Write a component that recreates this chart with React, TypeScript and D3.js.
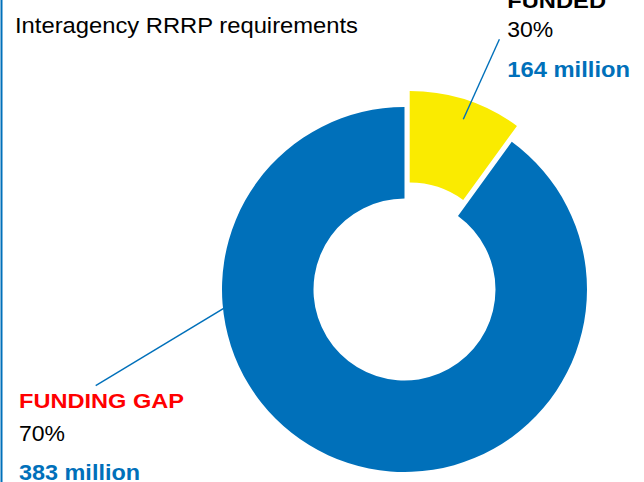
import React from "react";
import * as d3 from "d3";

const categories = ["FUNDED", "FUNDING GAP"];
const shares = [10, 90]; // slice sizes as drawn
const percentLabels = ["30%", "70%"];
const amountLabels = ["164 million", "383 million"];
const title = "Interagency RRRP requirements";

const W = 644;
const H = 482;
const BLUE = "#0070BA";
const YELLOW = "#FAEB00";
const RED = "#FF0000";

export default function App() {
  const cx = 404.5;
  const cy = 289.5;
  const outerR = 182.5;
  const innerR = 91;
  const explode = 16.8;

  const pie = d3
    .pie<number>()
    .sort(null)
    .value((d) => d)
    .startAngle(0)
    .endAngle(2 * Math.PI);
  const arcs = pie(shares);
  const arcGen = d3
    .arc<d3.PieArcDatum<number>>()
    .innerRadius(innerR)
    .outerRadius(outerR);
  const colors = [YELLOW, BLUE];

  const font = "Arial, 'Liberation Sans', sans-serif";

  const labelPos = [
    { x: 507.3, name: 8.3, pct: 36.7, amt: 77.3, nameW: 98.7, pctW: 46, amtW: 122.7 },
    { x: 19, name: 408.3, pct: 440.7, amt: 480, nameW: 165, pctW: 46, amtW: 121 },
  ];
  const nameColors = ["#000000", RED];

  return (
    <div style={{ position: "absolute", left: 0, top: 0, width: W, height: H, background: "#fff" }}>
      <svg width={W} height={H} style={{ display: "block" }}>
        <rect x={0} y={0} width={W} height={H} fill="#fff" />
        <line x1={1.5} x2={1.5} y1={0} y2={H} stroke={BLUE} strokeWidth={2} />
        <line x1={95.7} y1={385.7} x2={260} y2={286.5} stroke={BLUE} strokeWidth={1.4} />
        <g transform={`translate(${cx},${cy})`}>
          {arcs.map((a, i) => {
            const mid = (a.startAngle + a.endAngle) / 2;
            const off = i === 0 ? explode : 0;
            const dx = Math.sin(mid) * off;
            const dy = -Math.cos(mid) * off;
            return (
              <path
                key={categories[i]}
                d={arcGen(a) || ""}
                fill={colors[i]}
                transform={`translate(${dx},${dy})`}
              />
            );
          })}
        </g>
        <line x1={463.3} y1={119.3} x2={499.4} y2={39.3} stroke={BLUE} strokeWidth={1.4} />
        <text
          x={15}
          y={33.3}
          fontFamily={font}
          fontSize={22.5}
          fill="#000"
          textLength={343}
          lengthAdjust="spacingAndGlyphs"
        >
          {title}
        </text>
        {categories.map((c, i) => {
          const p = labelPos[i];
          return (
            <g key={c} fontFamily={font}>
              <text
                x={p.x}
                y={p.name}
                fontSize={21}
                fontWeight="bold"
                fill={nameColors[i]}
                textLength={p.nameW}
                lengthAdjust="spacingAndGlyphs"
              >
                {c}
              </text>
              <text
                x={p.x}
                y={p.pct}
                fontSize={22.5}
                fill="#000"
                textLength={p.pctW}
                lengthAdjust="spacingAndGlyphs"
              >
                {percentLabels[i]}
              </text>
              <text
                x={p.x}
                y={p.amt}
                fontSize={22}
                fontWeight="bold"
                fill={BLUE}
                textLength={p.amtW}
                lengthAdjust="spacingAndGlyphs"
              >
                {amountLabels[i]}
              </text>
            </g>
          );
        })}
      </svg>
    </div>
  );
}
